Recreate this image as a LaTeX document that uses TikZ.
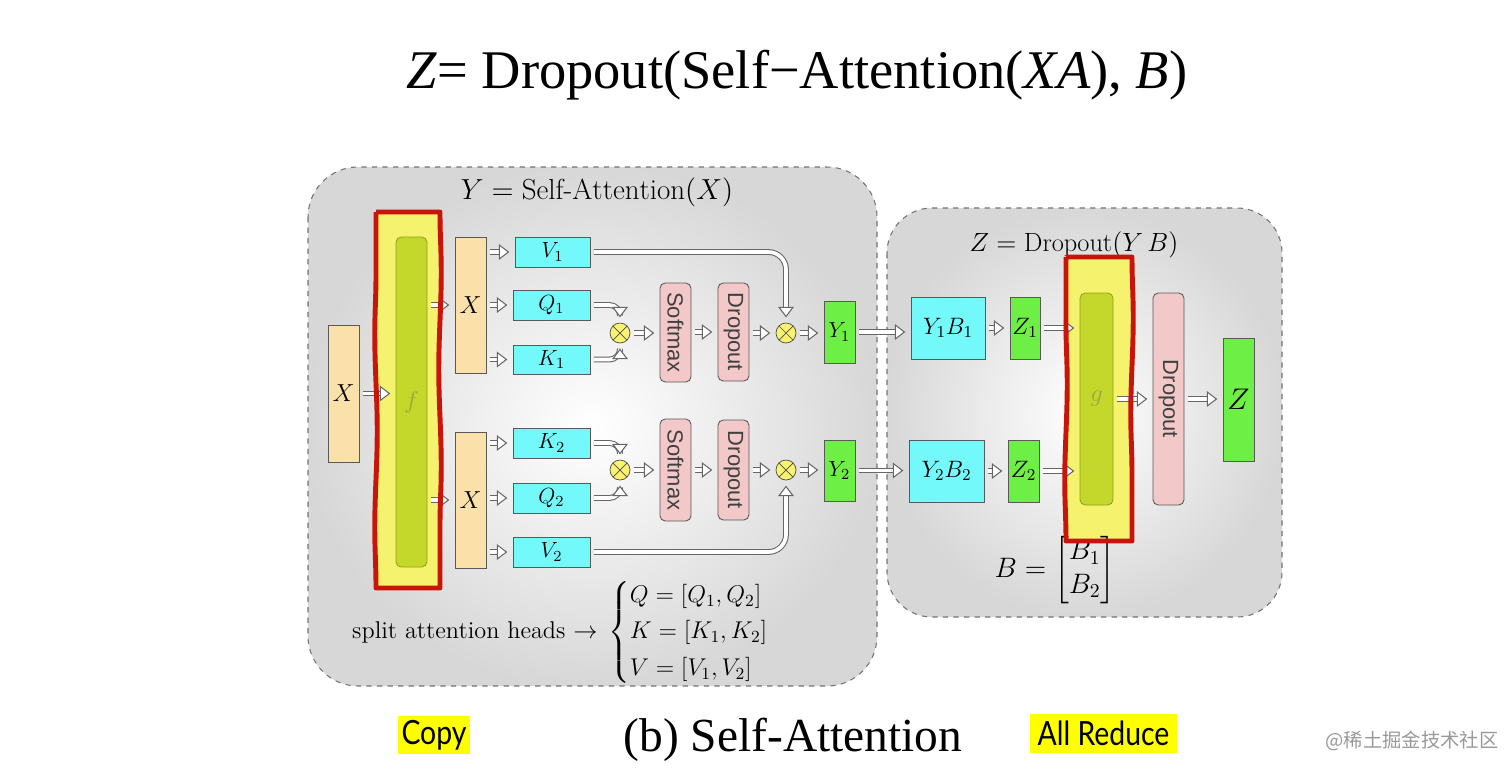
\documentclass[tikz,border=0pt]{standalone}
\usepackage{fix-cm}
\usepackage{amsmath,amssymb}
\usepackage{fontspec}
\usepackage{graphicx}
\newfontfamily\sansf{Liberation Sans}
\newfontfamily\seriff{Liberation Serif}
\newfontfamily\labf{Lato}
\newfontfamily\cjk{Noto Sans CJK SC}
\usetikzlibrary{arrows.meta,calc,decorations.pathmorphing}

\definecolor{xcol}{HTML}{FAE1AA}
\definecolor{qkvcol}{HTML}{74F9FB}
\definecolor{ycol}{HTML}{6EEF46}
\definecolor{opcol}{HTML}{F2C8C8}
\definecolor{mulcol}{HTML}{F8F270}
\definecolor{hlcol}{HTML}{F5F26E}
\definecolor{hlred}{HTML}{C8140A}
\definecolor{fgcol}{HTML}{C3D82A}
\definecolor{fgtext}{HTML}{A0A53C}
\definecolor{hiyellow}{HTML}{FFFF00}

\tikzset{
  wh/.style 2 args={minimum width=#1*0.02cm, minimum height=#2*0.02cm},
  blk/.style={draw=black!65, line width=0.5pt, inner sep=0pt, font=\fontsize{12.5}{15}\selectfont},
  xbox/.style={blk, fill=xcol, font=\fontsize{14}{16}\selectfont},
  qkv/.style={blk, fill=qkvcol},
  ybox/.style={blk, fill=ycol},
  opbox/.style={blk, fill=opcol, rounded corners=3pt, text=black!75, font=\sansf\fontsize{12.5}{15}\selectfont},
  fgbox/.style={blk, draw=black!25!fgcol, fill=fgcol, rounded corners=3pt, text=fgtext, font=\fontsize{14}{16}\selectfont},
  mul/.style={circle, draw=black!70, fill=mulcol, minimum size=0.4cm, inner sep=0pt,
    path picture={\draw[black!70] (path picture bounding box.north west) -- (path picture bounding box.south east)
      (path picture bounding box.north east) -- (path picture bounding box.south west);}},
  arr/.style={draw=black!60, line width=0.6pt, double=white, double distance=2.1pt,
    -{Triangle[length=6pt,width=9pt,fill=white]}, shorten <=2pt, shorten >=3pt},
  panel/.style={draw=black!55, dashed, line width=0.6pt, inner color=white, outer color=gray!31},
  hl/.style={fill=hlcol},
  hlborder/.style={draw=hlred, line width=2.8pt, line join=round, decoration={snake, amplitude=0.7pt, segment length=110pt}},
  tag/.style={fill=hiyellow, inner sep=0pt, font=\labf\fontsize{19}{20}\selectfont}
}

\begin{document}
\begin{tikzpicture}[x=0.02cm,y=-0.02cm]
\useasboundingbox (0,0) rectangle (1512,772);

\node (title) at (797,75) {\seriff\fontsize{31}{36}\selectfont\textit{Z}= Dropout(Self−Attention(\textit{XA}), \textit{B})};

% panels
\shadedraw[panel, rounded corners=1cm] (308,167) rectangle (877,686);
\shadedraw[panel, rounded corners=0.9cm] (887,208) rectangle (1282,617);
\node[font=\fontsize{16.5}{19}\selectfont] (ytitle) at (597,192) {$Y=\mathrm{Self\text{-}Attention}(X)$};
\node[font=\fontsize{15}{18}\selectfont] (ztitle) at (1074,245) {$Z=\mathrm{Dropout}(Y\,B)$};

% highlights
\fill[hl] (376,212) rectangle (440,588);
\fill[hl] (1066,257) rectangle (1132,541);

% self-attention
\node[xbox, wh={31}{137}] (xin) at (343.5,393.5) {$X$};
\node[fgbox, wh={31}{330}] (f) at (411.5,402) {$f$};
\node[xbox, wh={31}{136}] (xa) at (470.5,305) {$X$};
\node[xbox, wh={31}{136}] (xb) at (470.5,500) {$X$};

\node[qkv, wh={75}{30}] (v1) at (552.5,252) {$V_1$};
\node[qkv, wh={77}{30}] (q1) at (551.5,305) {$Q_1$};
\node[qkv, wh={77}{29}] (k1) at (551.5,359.5) {$K_1$};
\node[mul] (m1) at (620,333) {};
\node[opbox, wh={31}{99}] (sm1) at (675.5,332.5) {\rotatebox{-90}{Softmax}};
\node[opbox, wh={31}{98}] (do1) at (733.5,332) {\rotatebox{-90}{Dropout}};
\node[mul] (m2) at (786,333) {};
\node[ybox, wh={31}{62}] (y1) at (839.5,332) {$Y_1$};

\node[qkv, wh={77}{30}] (k2) at (551.5,443) {$K_2$};
\node[qkv, wh={77}{30}] (q2) at (551.5,498) {$Q_2$};
\node[qkv, wh={77}{30}] (v2) at (551.5,552) {$V_2$};
\node[mul] (m3) at (620,470) {};
\node[opbox, wh={31}{102}] (sm2) at (675.5,470) {\rotatebox{-90}{Softmax}};
\node[opbox, wh={31}{100}] (do2) at (733.5,470) {\rotatebox{-90}{Dropout}};
\node[mul] (m4) at (786,470) {};
\node[ybox, wh={31}{61}] (y2) at (839.5,470.5) {$Y_2$};

\node[anchor=west, font=\fontsize{13.8}{16.5}\selectfont] (split) at (346,632)
  {split attention heads $\rightarrow \,\begin{cases} Q=[Q_1,Q_2]\\[1pt] K=[K_1,K_2]\\[1pt] V=[V_1,V_2]\end{cases}$};

\draw[arr] (xin.east) -- (xin.east -| f.west);
\draw[arr] (f.east |- xa) -- (xa.west);
\draw[arr] (f.east |- xb) -- (xb.west);
\draw[arr] (xa.east |- v1) -- (v1.west);
\draw[arr] (xa.east |- q1) -- (q1.west);
\draw[arr] (xa.east |- k1) -- (k1.west);
\draw[arr] (xb.east |- k2) -- (k2.west);
\draw[arr] (xb.east |- q2) -- (q2.west);
\draw[arr] (xb.east |- v2) -- (v2.west);

\draw[arr, rounded corners=6pt] (q1.east) -| (m1.north);
\draw[arr, rounded corners=6pt] (k1.east) -| (m1.south);
\draw[arr] (m1.east) -- (m1.east -| sm1.west);
\draw[arr] (sm1.east |- do1) -- (do1.west);
\draw[arr] (do1.east |- m2) -- (m2.west);
\draw[arr, rounded corners=10pt] (v1.east) -| (m2.north);
\draw[arr] (m2.east) -- (m2.east -| y1.west);

\draw[arr, rounded corners=6pt] (k2.east) -| (m3.north);
\draw[arr, rounded corners=6pt] (q2.east) -| (m3.south);
\draw[arr] (m3.east) -- (m3.east -| sm2.west);
\draw[arr] (sm2.east |- do2) -- (do2.west);
\draw[arr] (do2.east |- m4) -- (m4.west);
\draw[arr, rounded corners=10pt] (v2.east) -| (m4.south);
\draw[arr] (m4.east) -- (m4.east -| y2.west);

% dropout of the product
\node[qkv, wh={74}{62}, font=\fontsize{13.5}{16}\selectfont] (yb1) at (948,328) {$Y_1B_1$};
\node[qkv, wh={75}{62}, font=\fontsize{13.5}{16}\selectfont] (yb2) at (946.5,471) {$Y_2B_2$};
\node[ybox, wh={30}{62}, font=\fontsize{13.5}{16}\selectfont] (z1) at (1025,328) {$Z_1$};
\node[ybox, wh={31}{62}, font=\fontsize{13.5}{16}\selectfont] (z2) at (1023.5,471) {$Z_2$};
\node[fgbox, wh={33}{212}] (g) at (1096.5,399) {$g$};
\node[opbox, wh={31}{212}] (do3) at (1168.5,399) {\rotatebox{-90}{Dropout}};
\node[ybox, wh={31}{123}, font=\fontsize{17}{20}\selectfont] (z) at (1238.5,399.5) {$Z$};
\node[font=\fontsize{16}{19}\selectfont] (bmat) at (1055,570) {$B=\begin{bmatrix}B_1\\ B_2\end{bmatrix}$};

\draw[arr] (y1.east) -- (y1.east -| yb1.west);
\draw[arr] (y2.east) -- (y2.east -| yb2.west);
\draw[arr] (yb1.east) -- (yb1.east -| z1.west);
\draw[arr] (yb2.east) -- (yb2.east -| z2.west);
\draw[arr] (z1.east) -- (z1.east -| g.west);
\draw[arr] (z2.east) -- (z2.east -| g.west);
\draw[arr] (g.east) -- (g.east -| do3.west);
\draw[arr] (do3.east) -- (do3.east -| z.west);

% red marks round f and g
\draw[hlborder] (376,212) -- (440,212) decorate {-- (440,588)} -- (376,588) decorate {-- (376,212)};
\draw[hlborder] (1066,257) -- (1132,257) decorate {-- (1132,541)} -- (1066,541) decorate {-- (1066,257)};

% captions
\node[tag, wh={72}{38}] (copy) at (434,735) {\scalebox{0.85}[1]{Copy}};
\node[tag, wh={147}{39}] (reduce) at (1103.5,733.5) {\scalebox{0.85}[1]{All Reduce}};
\node (caption) at (793,740) {\seriff\fontsize{27}{30}\selectfont(b) Self-Attention};
\node[text=black!40] (mark) at (1412,741) {\cjk\fontsize{11}{13}\selectfont @稀土掘金技术社区};
\end{tikzpicture}
\end{document}
